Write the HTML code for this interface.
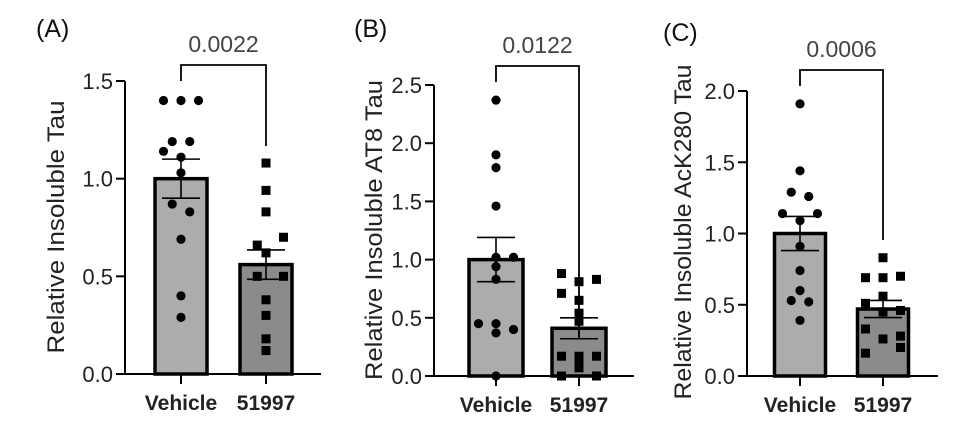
<!DOCTYPE html>
<html><head><meta charset="utf-8">
<style>
html,body{margin:0;padding:0;background:#fff;}
svg{display:block;font-family:"Liberation Sans",Arial,sans-serif;}
</style></head>
<body>
<svg id="fig" width="960" height="424" viewBox="0 0 960 424"></svg>
<script>
// ---- data ----
const categories = ["Vehicle", "51997"];
const panelLabels = ["(A)", "(B)", "(C)"];
const yTitles = ["Relative Insoluble Tau", "Relative Insoluble AT8 Tau", "Relative Insoluble AcK280 Tau"];
const pValues = ["0.0022", "0.0122", "0.0006"];
const yMaxes = [1.5, 2.5, 2.0];
const tickLabelsA = ["0.0", "0.5", "1.0", "1.5"];
const tickLabelsB = ["0.0", "0.5", "1.0", "1.5", "2.0", "2.5"];
const tickLabelsC = ["0.0", "0.5", "1.0", "1.5", "2.0"];
const meansA = [1.0, 0.56];
const meansB = [1.0, 0.41];
const meansC = [1.0, 0.47];
const semA = [0.10, 0.075];
const semB = [0.19, 0.09];
const semC = [0.12, 0.06];
const vehA = [1.40,1.40,1.40,1.19,1.19,1.14,1.11,1.03,0.87,0.83,0.69,0.40,0.29];
const vehAJit = [-1,0,1,-0.5,0.5,-1,0,0,-0.5,0.5,0,0,0];
const drugA = [1.08,0.94,0.83,0.70,0.66,0.62,0.50,0.50,0.38,0.30,0.18,0.12];
const drugAJit = [0,0,0,1,-0.5,0,-0.5,1,0,0,0,0];
const vehB = [2.37,1.90,1.79,1.46,1.02,1.02,0.94,0.83,0.45,0.45,0.37,0.40,0.0];
const vehBJit = [0,0,0,0,0,1,0,0,-1,0,0,1,0];
const drugB = [0.88,0.81,0.83,0.71,0.65,0.54,0.47,0.17,0.17,0.17,0.12,0.07,0,0];
const drugBJit = [-1,0,1,-1,0,0,0,-1,0,1,0,0,-1,1];
const vehC = [1.91,1.44,1.29,1.26,1.14,1.14,1.09,0.91,0.74,0.60,0.53,0.52,0.39];
const vehCJit = [0,0,-0.5,0.5,-1,1,0,0,0,0,-0.5,0.5,0];
const drugC = [0.83,0.69,0.69,0.70,0.56,0.51,0.45,0.46,0.33,0.26,0.28,0.20,0.16];
const drugCJit = [0,-1,0,1,0,-1,0,1,-1,0,1,1,-1];

// ---- layout ----
const panels = [
  {ax:125, y0:374, yTop:81, c:[181,266], bw:52, title:55, tlen:253, tmid:227, lbl:[36,28], ticks:tickLabelsA, means:meansA, sem:semA, pts:[vehA,drugA], jit:[vehAJit,drugAJit], brTop:65, brL:81, brR:146},
  {ax:434, y0:376, yTop:85, c:[496,579], bw:54, title:373, tlen:300, tmid:230, lbl:[354,28], ticks:tickLabelsB, means:meansB, sem:semB, pts:[vehB,drugB], jit:[vehBJit,drugBJit], brTop:66, brL:82, brR:337},
  {ax:747, y0:376, yTop:91, c:[800,883], bw:51, title:682, tlen:335, tmid:232, lbl:[663,32], ticks:tickLabelsC, means:meansC, sem:semC, pts:[vehC,drugC], jit:[vehCJit,drugCJit], brTop:70, brL:86, brR:240}
];
const NS = "http://www.w3.org/2000/svg";
const svg = document.getElementById("fig");
function mk(tag, attrs, parent, text){
  const e = document.createElementNS(NS, tag);
  for (const k in attrs) e.setAttribute(k, attrs[k]);
  if (text !== undefined) e.textContent = text;
  parent.appendChild(e); return e;
}
const fills = ["#acacac", "#8b8b8b"];
const keys = ["a","b","c"];
panels.forEach((p, i) => {
  const g = mk("g", {}, svg);
  
  
  const yMax = yMaxes[i];
  const y = v => p.y0 - (v / yMax) * (p.y0 - p.yTop);
  const t = mk("text", {x:p.lbl[0], y:p.lbl[1]+9, "font-size":25, fill:"#111"}, g, panelLabels[i]);
  
  
  categories.forEach((cat, j) => {
    const top = y(p.means[j]);
    const r = mk("rect", {x:p.c[j]-p.bw/2, y:top, width:p.bw, height:p.y0-top, fill:fills[j], stroke:"#000", "stroke-width":3.5}, g);
    
    
  });
  categories.forEach((cat, j) => {
    p.pts[j].forEach((v, k) => {
      const cx = p.c[j] + p.jit[j][k] * 17.5, cy = y(v);
      let m;
      if (j === 0) m = mk("circle", {cx:cx, cy:cy, r:4.6, fill:"#000"}, g);
      else m = mk("rect", {x:cx-4.5, y:cy-4.5, width:9, height:9, fill:"#000"}, g);
      
      
    });
  });
  categories.forEach((cat, j) => {
    const hi = y(p.means[j] + p.sem[j]), lo = y(p.means[j] - p.sem[j]);
    const e = mk("path", {d:`M${p.c[j]} ${lo}V${hi}M${p.c[j]-19} ${hi}H${p.c[j]+19}M${p.c[j]-19} ${lo}H${p.c[j]+19}`, stroke:"#000", "stroke-width":1.6, fill:"none"}, g);
    
    
  });
  const ya = mk("line", {x1:p.ax, y1:p.yTop, x2:p.ax, y2:p.y0, stroke:"#000", "stroke-width":2}, g);
  
  
  const xa = mk("line", {x1:p.ax, y1:p.y0, x2:p.c[1]+55, y2:p.y0, stroke:"#000", "stroke-width":2}, g);
  
  
  p.ticks.forEach((lab, k) => {
    const v = k * 0.5, yy = y(v);
    mk("line", {x1:p.ax-9, y1:yy, x2:p.ax, y2:yy, stroke:"#000", "stroke-width":2}, g);
    const tl = mk("text", {x:p.ax-12, y:yy+8, "font-size":22, "text-anchor":"end", fill:"#222"}, g, lab);
    
    
  });
  categories.forEach((cat, j) => {
    mk("line", {x1:p.c[j], y1:p.y0, x2:p.c[j], y2:p.y0+10, stroke:"#000", "stroke-width":2}, g);
    const xl = mk("text", {x:p.c[j], y:p.y0+36, "font-size":21, "font-weight":"bold", "text-anchor":"middle", fill:"#222"}, g, cat);
    
    
  });
  const yt = mk("text", {x:0, y:0, "font-size":24, "text-anchor":"middle", textLength:p.tlen, lengthAdjust:"spacingAndGlyphs", fill:"#222", transform:`translate(${p.title+9},${p.tmid}) rotate(-90)`}, g, yTitles[i]);
  
  
  const br = mk("path", {d:`M${p.c[0]} ${p.brL}V${p.brTop}H${p.c[1]}V${p.brR}`, stroke:"#000", "stroke-width":1.8, fill:"none"}, g);
  
  
  const pv = mk("text", {x:(p.c[0]+p.c[1])/2, y:p.brTop-13, "font-size":23, "text-anchor":"middle", fill:"#444"}, g, pValues[i]);
  
  
});
</script>
</body></html>
